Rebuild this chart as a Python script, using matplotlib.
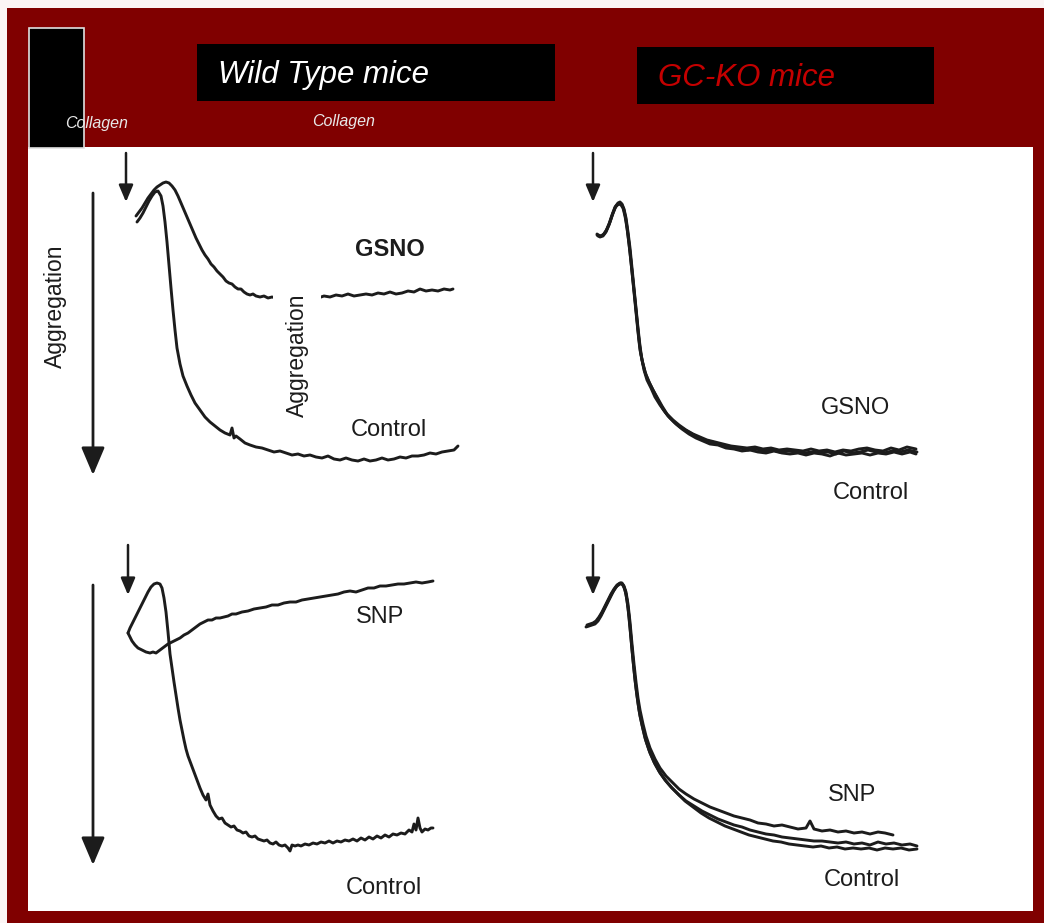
import numpy as np
import matplotlib
matplotlib.use("Agg")
import matplotlib.pyplot as plt
from matplotlib.patches import Rectangle

# ---------------------------------------------------------------------------
# Aggregometer traces (time after collagen, light transmission shift).
# Aggregation increases downward.
# ---------------------------------------------------------------------------

# Wild type, GSNO vs control
wt_gsno = [(36, 66), (39, 62), (42, 58), (45, 53), (48, 48), (51, 44), (54, 40), (57, 37), (60, 35), (63, 33),
           (66, 32), (69, 33), (72, 36), (75, 40), (78, 46), (81, 53), (84, 60), (87, 67), (90, 74), (93, 81),
           (96, 88), (99, 94), (102, 100), (105, 105), (108, 109), (111, 114), (114, 117), (117, 121), (120, 124),
           (123, 127), (126, 131), (129, 133), (132, 134), (135, 137), (138, 139), (141, 139), (144, 142),
           (147, 144), (150, 145), (153, 144), (156, 146), (160, 147), (164, 146), (168, 148), (172, 147),
           (176, 148), (182, 147), (188, 149), (194, 147), (200, 148), (206, 146), (212, 147), (218, 148),
           (224, 146), (230, 147), (236, 145), (242, 146), (248, 144), (254, 146), (260, 145), (266, 144),
           (272, 145), (278, 143), (284, 144), (290, 142), (296, 144), (302, 143), (308, 141), (314, 142),
           (320, 139), (326, 141), (332, 140), (338, 141), (344, 139), (350, 140), (353, 139)]

wt_gsno_ctrl = [(37, 72), (40, 68), (43, 63), (46, 57), (49, 51), (52, 46), (55, 42), (58, 41), (61, 46), (63, 56),
                (65, 72), (67, 92), (69, 115), (71, 138), (73, 160), (75, 180), (77, 198), (80, 214), (83, 226),
                (87, 236), (91, 245), (95, 253), (100, 260), (105, 267), (110, 272), (115, 276), (120, 280),
                (125, 283), (130, 285), (132, 278), (134, 288), (136, 286), (140, 289), (145, 293), (150, 295),
                (156, 297), (162, 298), (168, 300), (174, 302), (180, 301), (186, 303), (192, 305), (198, 304),
                (204, 306), (210, 305), (216, 307), (222, 308), (228, 306), (234, 309), (240, 310), (246, 308),
                (252, 310), (258, 311), (264, 309), (270, 311), (276, 310), (282, 308), (288, 310), (294, 309),
                (300, 307), (306, 308), (312, 306), (318, 306), (324, 305), (330, 303), (336, 304), (342, 302),
                (348, 301), (354, 300), (358, 296)]

# Wild type, SNP vs control
wt_snp = [(28, 93), (30, 97), (32, 101), (35, 105), (38, 108), (42, 110), (46, 112), (50, 113), (53, 112),
          (56, 113), (60, 110), (64, 107), (68, 104), (72, 102), (76, 100), (80, 98), (84, 95), (88, 93),
          (92, 90), (96, 87), (100, 84), (104, 82), (108, 80), (112, 80), (116, 78), (120, 78), (124, 77),
          (128, 76), (132, 74), (136, 74), (142, 72), (148, 71), (154, 69), (160, 68), (166, 67), (172, 65),
          (178, 65), (184, 63), (190, 62), (196, 62), (202, 60), (208, 59), (214, 58), (220, 57), (226, 56),
          (232, 55), (238, 54), (244, 52), (250, 51), (256, 52), (262, 50), (268, 48), (274, 48), (280, 46),
          (286, 46), (292, 45), (298, 44), (304, 44), (310, 43), (316, 42), (322, 43), (328, 42), (333, 41)]

wt_snp_ctrl = [(28, 93), (30, 88), (33, 82), (36, 76), (39, 70), (42, 64), (45, 58), (48, 52), (51, 47),
               (54, 44), (57, 43), (60, 44), (62, 48), (64, 58), (66, 72), (68, 92), (70, 114), (72, 128),
               (74, 142), (76, 155), (78, 168), (80, 180), (82, 190), (84, 200), (86, 209), (88, 216),
               (91, 224), (94, 232), (97, 240), (100, 248), (103, 255), (106, 260), (108, 254), (110, 265),
               (113, 271), (116, 276), (119, 279), (122, 278), (125, 283), (128, 285), (131, 287), (134, 286),
               (137, 290), (140, 291), (143, 293), (146, 292), (149, 296), (152, 297), (155, 296), (158, 299),
               (161, 300), (164, 301), (167, 300), (170, 303), (173, 304), (176, 302), (179, 305), (182, 306),
               (185, 305), (188, 308), (190, 311), (192, 305), (195, 306), (198, 305), (201, 306), (205, 304),
               (209, 305), (213, 303), (217, 304), (221, 302), (225, 303), (229, 301), (233, 303), (237, 301),
               (241, 302), (245, 300), (249, 301), (253, 299), (257, 301), (261, 298), (265, 300), (269, 297),
               (273, 299), (277, 296), (281, 298), (285, 295), (289, 297), (293, 294), (297, 295), (301, 293),
               (305, 294), (309, 290), (312, 292), (314, 284), (316, 290), (318, 278), (320, 288), (322, 292),
               (325, 289), (328, 290), (331, 288), (333, 288)]

# GC-KO, GSNO / control (superimposed runs)
ko_gsno_runs = [
    [(27, 85), (30, 87), (33, 86), (36, 82), (39, 75), (42, 66), (45, 58), (48, 54), (50, 53), (52, 55),
     (54, 60), (56, 70), (58, 85), (60, 102), (62, 122), (64, 142), (66, 162), (68, 182), (70, 200),
     (73, 214), (76, 225), (80, 234), (84, 242), (88, 250), (93, 259), (98, 266), (104, 272), (110, 277),
     (117, 281), (124, 285), (131, 289), (138, 291), (146, 293), (154, 296), (162, 297), (170, 298),
     (178, 300), (186, 299), (194, 301), (202, 300), (210, 302), (218, 301), (226, 302), (234, 303),
     (242, 302), (250, 303), (258, 302), (266, 304), (274, 301), (282, 303), (290, 302), (298, 300),
     (306, 302), (314, 303), (322, 301), (330, 302), (338, 300), (347, 302)],
    [(28, 86), (31, 86), (34, 84), (37, 79), (40, 72), (43, 63), (46, 56), (49, 54), (51, 55), (53, 58),
     (55, 66), (57, 78), (59, 94), (61, 112), (63, 131), (65, 150), (67, 170), (69, 190), (71, 205),
     (74, 220), (77, 230), (81, 238), (85, 247), (90, 255), (95, 262), (100, 268), (106, 274), (112, 279),
     (119, 284), (126, 288), (133, 291), (140, 294), (148, 295), (156, 298), (164, 299), (172, 301),
     (180, 300), (188, 302), (196, 303), (204, 301), (212, 303), (220, 304), (228, 303), (236, 305),
     (244, 303), (252, 304), (260, 306), (268, 303), (276, 305), (284, 304), (292, 303), (300, 305),
     (308, 303), (316, 304), (324, 302), (332, 304), (340, 302), (346, 304)],
    [(27, 84), (30, 86), (33, 85), (36, 81), (39, 74), (42, 65), (45, 57), (48, 53), (50, 52), (52, 54),
     (54, 59), (56, 68), (58, 82), (60, 98), (62, 118), (64, 138), (66, 158), (68, 178), (70, 196),
     (72, 210), (75, 222), (79, 232), (83, 240), (87, 247), (92, 256), (97, 264), (103, 270), (109, 275),
     (116, 280), (123, 284), (130, 287), (137, 290), (145, 292), (153, 294), (161, 296), (169, 297),
     (177, 298), (185, 297), (193, 299), (201, 298), (209, 300), (217, 299), (225, 300), (233, 301),
     (241, 299), (249, 301), (257, 300), (265, 302), (273, 300), (281, 301), (289, 299), (297, 298),
     (305, 300), (313, 301), (321, 298), (329, 300), (337, 297), (346, 299)],
]

# GC-KO, SNP / control (superimposed runs)
ko_snp_runs = [
    [(17, 85), (20, 84), (23, 83), (26, 81), (29, 77), (32, 72), (35, 66), (38, 60), (41, 54), (44, 49),
     (47, 45), (50, 43), (52, 43), (54, 46), (56, 52), (58, 64), (60, 82), (62, 104), (64, 124), (66, 142),
     (68, 158), (70, 170), (73, 184), (76, 196), (80, 208), (85, 219), (90, 228), (96, 236), (102, 242),
     (109, 249), (116, 254), (124, 259), (132, 263), (140, 267), (148, 270), (156, 273), (164, 276),
     (172, 278), (180, 280), (188, 283), (196, 284), (204, 286), (212, 285), (220, 287), (228, 289),
     (236, 288), (240, 281), (244, 289), (252, 291), (260, 290), (268, 292), (276, 291), (284, 293),
     (292, 292), (300, 294), (308, 292), (315, 293), (323, 295)],
    [(17, 86), (20, 85), (23, 84), (26, 82), (29, 78), (32, 73), (35, 67), (38, 61), (41, 55), (44, 50),
     (47, 46), (50, 44), (52, 44), (54, 47), (56, 54), (58, 68), (60, 88), (62, 110), (64, 130), (66, 148),
     (68, 163), (70, 176), (73, 189), (76, 201), (80, 213), (85, 224), (90, 233), (96, 241), (102, 248),
     (109, 255), (116, 261), (124, 266), (132, 271), (140, 275), (148, 279), (156, 282), (164, 285),
     (172, 287), (180, 290), (188, 292), (196, 294), (204, 295), (212, 297), (220, 298), (228, 299),
     (236, 300), (244, 301), (252, 301), (260, 302), (268, 303), (276, 302), (284, 304), (292, 303),
     (300, 305), (308, 302), (316, 304), (324, 303), (332, 305), (340, 304), (347, 306)],
    [(16, 87), (19, 86), (22, 85), (25, 84), (28, 81), (31, 76), (34, 70), (37, 64), (40, 58), (43, 52),
     (46, 47), (49, 44), (51, 43), (53, 45), (55, 50), (57, 60), (59, 76), (61, 98), (63, 120), (65, 140),
     (67, 156), (69, 170), (72, 185), (75, 198), (79, 210), (84, 222), (89, 231), (95, 240), (101, 247),
     (108, 254), (115, 261), (123, 267), (131, 273), (139, 278), (147, 282), (155, 286), (163, 289),
     (171, 292), (179, 295), (187, 297), (195, 299), (203, 301), (211, 302), (219, 304), (227, 305),
     (235, 306), (243, 307), (251, 306), (259, 308), (267, 307), (275, 309), (283, 308), (291, 309),
     (299, 308), (307, 310), (315, 308), (323, 309), (331, 308), (339, 310), (347, 309)],
]

# ---------------------------------------------------------------------------
W, H = 1044, 923
FONT = "Liberation Sans"
INK = "#1c1c1c"
MAROON = "#800000"
LABEL_FS = 17
TRACE_LW = 2.1

fig = plt.figure(figsize=(W / 100, H / 100), dpi=100, facecolor="#fbf5f5")

# Slide backdrop and header
bg = fig.add_axes([0, 0, 1, 1])
bg.set_xlim(0, W)
bg.set_ylim(H, 0)
bg.axis("off")
bg.add_patch(Rectangle((7, 8), W - 7, H - 8, facecolor=MAROON, edgecolor="none"))
bg.add_patch(Rectangle((28, 147), 1005, 764, facecolor="white", edgecolor="none"))
bg.add_patch(Rectangle((28.5, 27.5), 55, 120, facecolor="black", edgecolor="#e0e0e0", lw=1.2))
bg.add_patch(Rectangle((197, 44), 358, 57, facecolor="black", edgecolor="none"))
bg.add_patch(Rectangle((637, 47), 297, 57, facecolor="black", edgecolor="none"))
bg.text(218, 83, "Wild Type mice", color="white", style="italic", fontsize=22.5, family=FONT)
bg.text(658, 86, "GC-KO mice", color="#c40000", style="italic", fontsize=22.5, family=FONT)
bg.text(65, 128, "Collagen", color="#e8e8e8", style="italic", fontsize=11.5, family=FONT)
bg.text(312, 126, "Collagen", color="#e8e8e8", style="italic", fontsize=11.5, family=FONT)


def make_panel(left, top, width, height, t_origin):
    ax = fig.add_axes([left / W, 1 - (top + height) / H, width / W, height / H])
    ax.set_xlim(left - t_origin, left - t_origin + width)
    ax.set_ylim(height, 0)
    ax.axis("off")
    ax.patch.set_visible(False)
    return ax


def trace(ax, pts):
    t, a = np.array(pts, dtype=float).T
    ax.plot(t, a, color=INK, lw=TRACE_LW, solid_joinstyle="round", solid_capstyle="round")


def arrow(ax, t, a_tail, a_tip, scale, lw):
    ax.annotate("", xy=(t, a_tip), xytext=(t, a_tail),
                arrowprops=dict(arrowstyle="-|>,head_length=0.85,head_width=0.36",
                                mutation_scale=scale, lw=lw, color=INK,
                                shrinkA=0, shrinkB=0))


def label(ax, t, a, s, **kw):
    ax.text(t, a, s, ha="center", va="center", fontsize=LABEL_FS, family=FONT, color=INK, **kw)


ax_tl = make_panel(30, 150, 450, 360, 100)
ax_tr = make_panel(560, 150, 380, 360, 570)
ax_bl = make_panel(30, 540, 450, 365, 100)
ax_br = make_panel(560, 540, 380, 365, 570)

# Wild type: GSNO
trace(ax_tl, wt_gsno_ctrl)
trace(ax_tl, wt_gsno)
arrow(ax_tl, 26, 3, 52, 12, 1.8)
arrow(ax_tl, -7, 43, 325, 20, 2.0)
ax_tl.text(-45, 156, "Aggregation", rotation=90, ha="center", va="center",
           fontsize=16.5, family=FONT, color=INK)
ax_tl.text(197, 205, "Aggregation", rotation=90, ha="center", va="center",
           fontsize=16.5, family=FONT, color=INK,
           bbox=dict(boxstyle="square,pad=0.55", facecolor="white", edgecolor="none"), zorder=5)
label(ax_tl, 290, 100, "GSNO", fontweight="bold")
label(ax_tl, 289, 280, "Control")

# Wild type: SNP
trace(ax_bl, wt_snp_ctrl)
trace(ax_bl, wt_snp)
arrow(ax_bl, 28, 5, 55, 12, 1.8)
arrow(ax_bl, -7, 45, 325, 20, 2.0)
label(ax_bl, 280, 77, "SNP")
label(ax_bl, 284, 348, "Control")

# GC-KO: GSNO
for run in ko_gsno_runs:
    trace(ax_tr, run)
arrow(ax_tr, 23, 3, 52, 12, 1.8)
label(ax_tr, 285, 258, "GSNO")
label(ax_tr, 301, 343, "Control")

# GC-KO: SNP
for run in ko_snp_runs:
    trace(ax_br, run)
arrow(ax_br, 23, 5, 55, 12, 1.8)
label(ax_br, 282, 255, "SNP")
label(ax_br, 292, 340, "Control")

fig.savefig("out.png", dpi=100, facecolor=fig.get_facecolor())
